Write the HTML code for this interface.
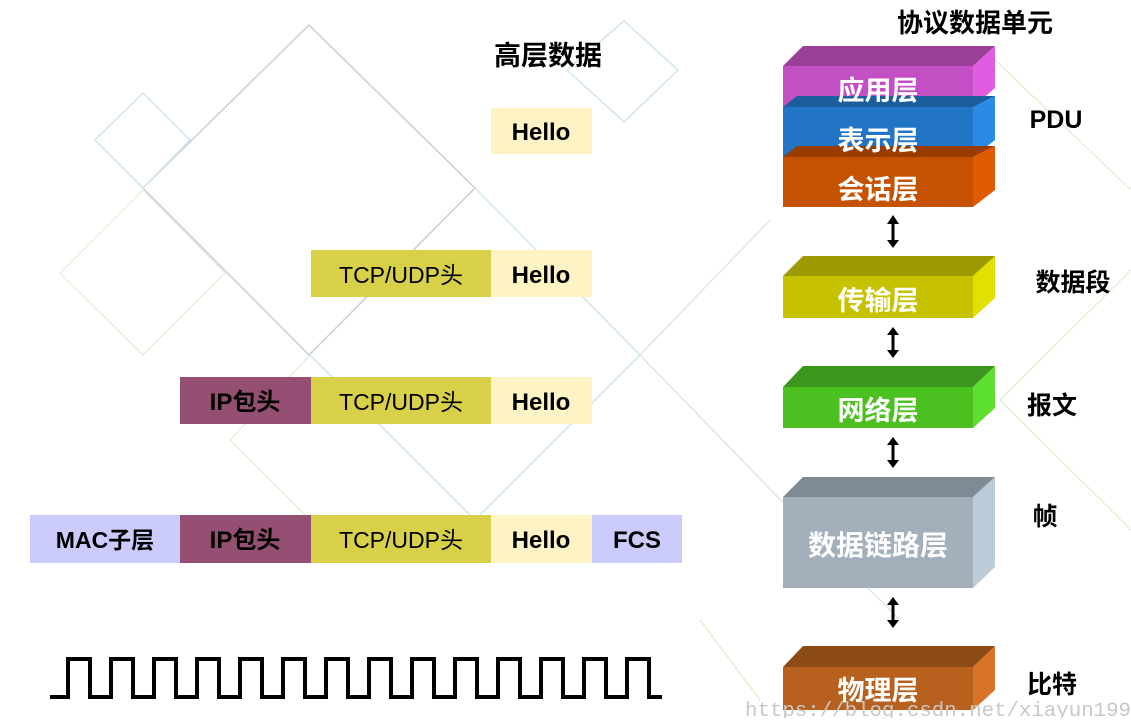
<!DOCTYPE html>
<html><head><meta charset="utf-8"><style>
html,body{margin:0;padding:0;background:#fff;}
svg text{font-family:"Liberation Sans","Noto Sans CJK SC",sans-serif;font-weight:bold;}
</style></head><body>
<svg width="1131" height="718" viewBox="0 0 1131 718" xmlns="http://www.w3.org/2000/svg">
<g fill="none" stroke-width="1.5">
<path d="M309 25 L475 188 L309 355 L143 188 Z" stroke="#c9ced6"/>
<path d="M143 93 L190 140 L143 188 L95 140 Z" stroke="#cfe6ee"/>
<path d="M624 21 L678 70 L624 122 L567 70 Z" stroke="#cfe6ee"/>
<path d="M143 190 L225 273 L143 355 L60 273 Z" stroke="#e6f0d6"/>
<path d="M475 188 L640 355 L475 520 L310 355" stroke="#d2e6ee"/>
<path d="M640 355 L770 220 M640 355 L800 520 L900 620" stroke="#d9e8ee"/>
<path d="M310 355 L230 440 L330 540 M1131 270 L1000 400 L1131 530" stroke="#e6f0d6"/>
<path d="M995 60 L1131 190 M700 620 L760 700" stroke="#e6f0d6"/>
</g>
<text x="548" y="65" font-size="27" text-anchor="middle" fill="#000">高层数据</text>
<text x="975" y="32" font-size="26" text-anchor="middle" fill="#000">协议数据单元</text>
<rect x="491" y="108" width="101" height="46" fill="#fdf3c4"/>
<text x="541" y="140" font-size="24" text-anchor="middle">Hello</text>
<rect x="311" y="250" width="180" height="47" fill="#d8d048"/>
<rect x="491" y="250" width="101" height="47" fill="#fdf3c4"/>
<text x="401" y="283" font-size="23" text-anchor="middle" style="font-weight:normal">TCP/UDP头</text>
<text x="541" y="283" font-size="24" text-anchor="middle">Hello</text>
<rect x="180" y="377" width="131" height="47" fill="#954f72"/>
<rect x="311" y="377" width="180" height="47" fill="#d8d048"/>
<rect x="491" y="377" width="101" height="47" fill="#fdf3c4"/>
<text x="245" y="410" font-size="24" text-anchor="middle">IP包头</text>
<text x="401" y="410" font-size="23" text-anchor="middle" style="font-weight:normal">TCP/UDP头</text>
<text x="541" y="410" font-size="24" text-anchor="middle">Hello</text>
<rect x="30" y="515" width="150" height="48" fill="#ccccfc"/>
<rect x="180" y="515" width="131" height="48" fill="#954f72"/>
<rect x="311" y="515" width="180" height="48" fill="#d8d048"/>
<rect x="491" y="515" width="101" height="48" fill="#fdf3c4"/>
<rect x="592" y="515" width="90" height="48" fill="#ccccfc"/>
<text x="105" y="548" font-size="23" text-anchor="middle">MAC子层</text>
<text x="245" y="548" font-size="24" text-anchor="middle">IP包头</text>
<text x="401" y="548" font-size="23" text-anchor="middle" style="font-weight:normal">TCP/UDP头</text>
<text x="541" y="548" font-size="24" text-anchor="middle">Hello</text>
<text x="637" y="548" font-size="24" text-anchor="middle">FCS</text>
<path fill="none" stroke="#000" stroke-width="4" stroke-linejoin="miter" d="M50 697 H68 V659 H90 V697 H111 V659 H133 V697 H154 V659 H176 V697 H197 V659 H219 V697 H240 V659 H262 V697 H283 V659 H305 V697 H326 V659 H348 V697 H369 V659 H391 V697 H412 V659 H434 V697 H455 V659 H477 V697 H498 V659 H520 V697 H541 V659 H563 V697 H584 V659 H606 V697 H627 V659 H649 V697 H662"/>
<g>
<polygon points="783,66 803,46 995,46 973,66" fill="#9a3f98"/>
<polygon points="973,66 995,46 995,88 973,107" fill="#e05ce0"/>
<rect x="783" y="66" width="190" height="41" fill="#c24fc4"/>
<polygon points="973,107 995,96 995,140 973,157" fill="#2a8ae6"/>
<rect x="783" y="107" width="190" height="50" fill="#2274c4"/>
<polygon points="783,107 797,96 995,96 973,107" fill="#1a5e9e"/>
<polygon points="783,157 797,146 995,146 973,157" fill="#993c00"/>
<polygon points="973,157 995,146 995,190 973,207" fill="#e05a00"/>
<rect x="783" y="157" width="190" height="50" fill="#c45200"/>
<text x="878" y="100" font-size="27" fill="#fff" text-anchor="middle">应用层</text>
<text x="878" y="150" font-size="27" fill="#fff" text-anchor="middle">表示层</text>
<text x="878" y="199" font-size="27" fill="#fff" text-anchor="middle">会话层</text>
<polygon points="783,276 803,256 995,256 973,276" fill="#9c9a00"/>
<polygon points="973,276 995,256 995,298 973,318" fill="#e2e000"/>
<rect x="783" y="276" width="190" height="42" fill="#c6c200"/>
<text x="878" y="310" font-size="27" fill="#fff" text-anchor="middle">传输层</text>
<polygon points="783,387 803,366 995,366 973,387" fill="#3a961c"/>
<polygon points="973,387 995,366 995,408 973,428" fill="#5ee030"/>
<rect x="783" y="387" width="190" height="41" fill="#4cc020"/>
<text x="878" y="420" font-size="27" fill="#fff" text-anchor="middle">网络层</text>
<polygon points="783,497 803,477 995,477 973,497" fill="#808a96"/>
<polygon points="973,497 995,477 995,567 973,588" fill="#bccbd8"/>
<rect x="783" y="497" width="190" height="91" fill="#a3b0bc"/>
<text x="878" y="555" font-size="28" fill="#fff" text-anchor="middle">数据链路层</text>
<polygon points="783,667 803,646 995,646 973,667" fill="#8c4a14"/>
<polygon points="973,667 995,646 995,690 973,710" fill="#d8742a"/>
<rect x="783" y="667" width="190" height="43" fill="#b8601e"/>
<text x="878" y="700" font-size="27" fill="#fff" text-anchor="middle">物理层</text>
</g>
<g fill="#000" stroke="#000" stroke-width="3">
<line x1="893" y1="222" x2="893" y2="242"/>
<line x1="893" y1="333" x2="893" y2="352"/>
<line x1="893" y1="443" x2="893" y2="462"/>
<line x1="893" y1="603" x2="893" y2="622"/>
</g>
<g fill="#000">
<polygon points="887,224 899,224 893,215"/><polygon points="887,240 899,240 893,248"/>
<polygon points="887,335 899,335 893,327"/><polygon points="887,350 899,350 893,358"/>
<polygon points="887,445 899,445 893,437"/><polygon points="887,460 899,460 893,468"/>
<polygon points="887,605 899,605 893,597"/><polygon points="887,620 899,620 893,628"/>
</g>
<text x="1056" y="128" font-size="25" text-anchor="middle">PDU</text>
<text x="1073" y="291" font-size="25" text-anchor="middle">数据段</text>
<text x="1052" y="414" font-size="25" text-anchor="middle">报文</text>
<text x="1045" y="525" font-size="25" text-anchor="middle">帧</text>
<text x="1052" y="693" font-size="25" text-anchor="middle">比特</text>
<text x="745" y="716" font-size="20" fill="#c8c8c8" textLength="386" lengthAdjust="spacingAndGlyphs" style="font-weight:normal;font-family:'Liberation Mono',monospace">https://blog.csdn.net/xiayun199</text>
</svg>
</body></html>
